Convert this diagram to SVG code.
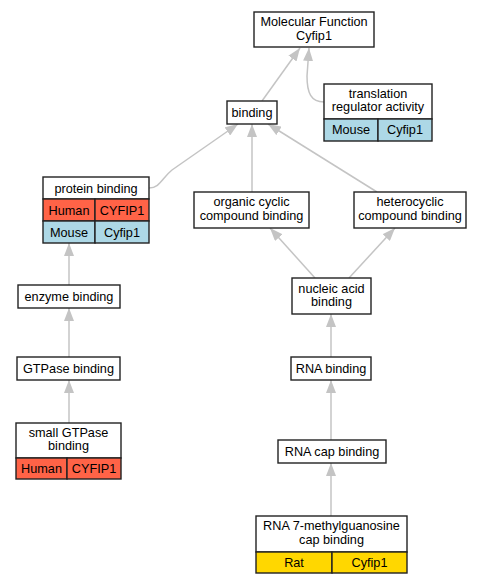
<svg xmlns="http://www.w3.org/2000/svg" width="485" height="584" viewBox="0 0 485 584">
<style>
.box{fill:#fff;stroke:#222;stroke-width:1.4}
.hu{fill:#FF6347;stroke:#222;stroke-width:1.4}
.mo{fill:#ADD8E6;stroke:#222;stroke-width:1.4}
.ra{fill:#FFD700;stroke:#222;stroke-width:1.4}
text{font-family:"Liberation Sans",Arial,sans-serif;font-size:12.7px;fill:#000;text-anchor:middle}
.e{fill:none;stroke:#c4c4c4;stroke-width:1.5;marker-end:url(#ah)}
</style>
<defs>
<marker id="ah" viewBox="0 0 13 10" refX="13" refY="5" markerWidth="13" markerHeight="10" markerUnits="userSpaceOnUse" orient="auto">
<path d="M0,0 L13,5 L0,10 z" fill="#c4c4c4"/>
</marker>
</defs>
<rect width="485" height="584" fill="#fff"/>
<g id="connectors">
<path class="e" d="M262,101 L300,48"/>
<path class="e" d="M324,102 C311,102 307,93 307,76 L309,48"/>
<path class="e" d="M149,188 C160,188 162,178 172,170 L238,124"/>
<path class="e" d="M252,192 L252,124"/>
<path class="e" d="M377,192 L268,124"/>
<path class="e" d="M69,285 L69,243"/>
<path class="e" d="M69,357 L69,308"/>
<path class="e" d="M69,423 L69,380"/>
<path class="e" d="M315,278 L270,228"/>
<path class="e" d="M349,278 L395,228"/>
<path class="e" d="M331,357 L331,314"/>
<path class="e" d="M331,440 L331,380"/>
<path class="e" d="M331,516 L331,463"/>
</g>
<g id="mf">
<rect class="box" x="254" y="12" width="120" height="35"/>
<text x="314" y="26">Molecular Function</text>
<text x="314" y="39.5">Cyfip1</text>
</g>
<g id="translation">
<rect class="box" x="324" y="84" width="108" height="35"/>
<text x="378" y="98">translation</text>
<text x="378" y="111">regulator activity</text>
<rect class="mo" x="324" y="119" width="54" height="22"/>
<rect class="mo" x="378" y="119" width="54" height="22"/>
<text x="351" y="133.5">Mouse</text>
<text x="405" y="133.5">Cyfip1</text>
</g>
<g id="binding">
<rect class="box" x="227" y="101" width="50" height="23"/>
<text x="252" y="116.5">binding</text>
</g>
<g id="protein">
<rect class="box" x="43" y="177" width="106" height="22"/>
<text x="96" y="192.5">protein binding</text>
<rect class="hu" x="43" y="199" width="52" height="22"/>
<rect class="hu" x="95" y="199" width="54" height="22"/>
<text x="69" y="214.5">Human</text>
<text x="122" y="214.5">CYFIP1</text>
<rect class="mo" x="43" y="221" width="52" height="22"/>
<rect class="mo" x="95" y="221" width="54" height="22"/>
<text x="69" y="236.5">Mouse</text>
<text x="122" y="236.5">Cyfip1</text>
</g>
<g id="organic">
<rect class="box" x="194" y="192" width="115" height="36"/>
<text x="251.5" y="206">organic cyclic</text>
<text x="251.5" y="219.5">compound binding</text>
</g>
<g id="hetero">
<rect class="box" x="354" y="192" width="112" height="36"/>
<text x="410" y="206">heterocyclic</text>
<text x="410" y="219.5">compound binding</text>
</g>
<g id="nucleic">
<rect class="box" x="292" y="278" width="79" height="36"/>
<text x="331.5" y="292.5">nucleic acid</text>
<text x="331.5" y="306">binding</text>
</g>
<g id="enzyme">
<rect class="box" x="18" y="285" width="102" height="23"/>
<text x="69" y="300.5">enzyme binding</text>
</g>
<g id="gtpase">
<rect class="box" x="17" y="357" width="103" height="23"/>
<text x="68.5" y="372.5">GTPase binding</text>
</g>
<g id="rnabinding">
<rect class="box" x="291" y="357" width="80" height="23"/>
<text x="331" y="372.5">RNA binding</text>
</g>
<g id="smallgtpase">
<rect class="box" x="16" y="423" width="105" height="35"/>
<text x="68.5" y="437">small GTPase</text>
<text x="68.5" y="450">binding</text>
<rect class="hu" x="16" y="458" width="51" height="21"/>
<rect class="hu" x="67" y="458" width="54" height="21"/>
<text x="41.5" y="473">Human</text>
<text x="94" y="473">CYFIP1</text>
</g>
<g id="rnacap">
<rect class="box" x="278" y="440" width="108" height="23"/>
<text x="332" y="455.5">RNA cap binding</text>
</g>
<g id="rna7m">
<rect class="box" x="256" y="516" width="151" height="36"/>
<text x="331.5" y="530">RNA 7-methylguanosine</text>
<text x="331.5" y="543.5">cap binding</text>
<rect class="ra" x="256" y="552" width="76" height="21"/>
<rect class="ra" x="332" y="552" width="75" height="21"/>
<text x="294" y="567">Rat</text>
<text x="369.5" y="567">Cyfip1</text>
</g>
</svg>
